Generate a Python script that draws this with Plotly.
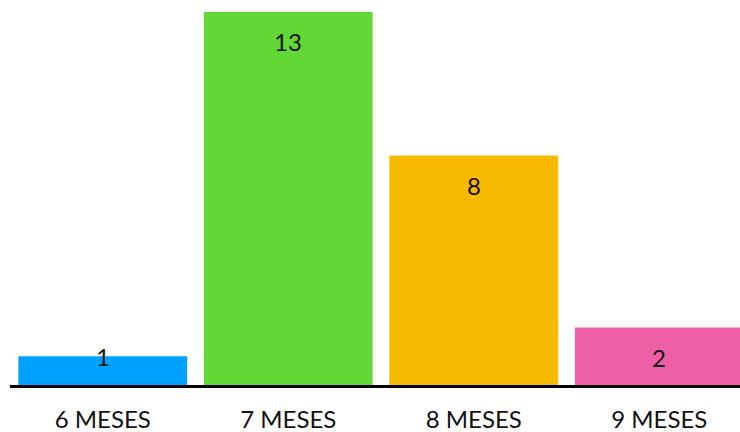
import plotly.graph_objects as go

categories = ["6 MESES", "7 MESES", "8 MESES", "9 MESES"]
values = [1, 13, 8, 2]
colors = ["#00A2FF", "#61D836", "#F8BA00", "#EF5FA7"]

FONT = "Lato, 'DejaVu Sans', sans-serif"

fig = go.Figure()
fig.add_trace(go.Bar(
    x=categories, y=values,
    marker=dict(color=colors, line=dict(width=0)),
    width=0.91,
    hoverinfo="skip",
))

for c, v in zip(categories, values):
    fig.add_annotation(
        x=c, y=v, text=str(v), showarrow=False,
        yshift=-30 if v >= 2 else 0,
        font=dict(family=FONT, size=24, color="#111111"),
    )

fig.update_layout(
    width=740, height=432,
    margin=dict(l=10, r=0, t=0, b=47, autoexpand=False),
    paper_bgcolor="white", plot_bgcolor="white",
    showlegend=False,
    xaxis=dict(
        range=[-0.5, 3.435],
        automargin=False,
        showline=True, linecolor="black", linewidth=2.5,
        ticks="outside", ticklen=11, tickcolor="rgba(0,0,0,0)",
        tickfont=dict(family=FONT, size=24, color="#111111"),
        showgrid=False, zeroline=False,
    ),
    yaxis=dict(
        range=[0, 13.418],
        automargin=False,
        visible=False, showgrid=False, zeroline=False,
    ),
)

fig.write_html("out.html")
